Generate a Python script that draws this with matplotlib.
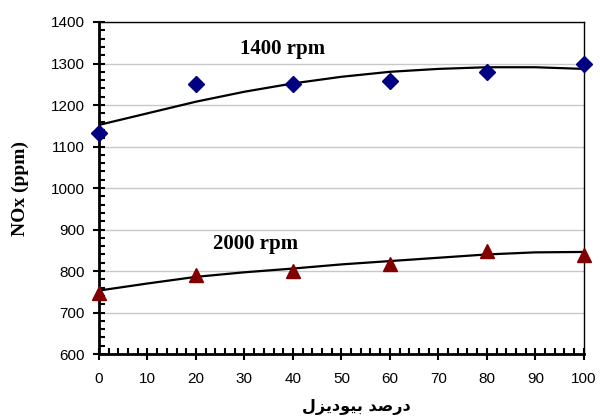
import matplotlib.pyplot as plt
from matplotlib.ticker import MultipleLocator

plt.rcParams.update({"font.family": "Liberation Sans", "font.size": 11})

# measured points
biodiesel = [0, 20, 40, 60, 80, 100]
nox_1400 = [1132, 1250, 1250, 1259, 1280, 1300]
nox_2000 = [748, 790, 800, 818, 848, 838]

# trend curves
trend_x = [0, 10, 20, 30, 40, 50, 60, 70, 80, 90, 100]
trend_1400 = [1152, 1180, 1208, 1232, 1252, 1268, 1280, 1287, 1291, 1291, 1287]
trend_2000 = [753, 770, 786, 797, 806, 816, 824, 832, 840, 845, 846]

# "درصد بیودیزل" in presentation forms, visual order (no shaping in matplotlib)
xlabel = "\ufedd\ufeb0\ufef3\ufea9\ufeee\ufef4\ufe91 \ufeaa\ufebb\ufead\ufea9"

fig = plt.figure(figsize=(6, 4.19), dpi=100)
ax = fig.add_axes([0.165, 0.155, 0.808, 0.7925])

ax.grid(axis="y", color="#c8c8c8", linewidth=1)
ax.set_axisbelow(True)

ax.plot(trend_x, trend_1400, color="black", linewidth=1.6, zorder=3)
ax.plot(trend_x, trend_2000, color="black", linewidth=1.6, zorder=3)
ax.plot(biodiesel, nox_1400, "D", color="#000080", markersize=8.5, linestyle="none", zorder=4, clip_on=False)
ax.plot(biodiesel, nox_2000, "^", color="#800000", markersize=10.5, linestyle="none", zorder=4, clip_on=False)

ax.text(29, 1335, "1400 rpm", family="Liberation Serif", weight="bold", fontsize=15, va="center")
ax.text(23.5, 865, "2000 rpm", family="Liberation Serif", weight="bold", fontsize=15, va="center")

ax.set_xlim(0, 100)
ax.set_ylim(600, 1400)
ax.xaxis.set_major_locator(MultipleLocator(10))
ax.xaxis.set_minor_locator(MultipleLocator(2))
ax.yaxis.set_major_locator(MultipleLocator(100))
ax.yaxis.set_minor_locator(MultipleLocator(20))
ax.tick_params(which="major", direction="inout", length=8.5, width=1.5)
ax.tick_params(axis="x", which="major", pad=9)
ax.tick_params(axis="y", which="major", pad=6)
ax.tick_params(which="minor", direction="in", length=4.3, width=1.5)

for s in ["left", "bottom"]:
    ax.spines[s].set_linewidth(2)
for s in ["top", "right"]:
    ax.spines[s].set_linewidth(1)

ax.set_ylabel("NOx (ppm)", family="Liberation Serif", weight="bold", fontsize=14, labelpad=16)
ax.set_xlabel(xlabel, family="DejaVu Sans", weight="bold", fontsize=11.5, labelpad=10)
ax.xaxis.set_label_coords(0.53, -0.135)

plt.savefig("out.png", dpi=100)
